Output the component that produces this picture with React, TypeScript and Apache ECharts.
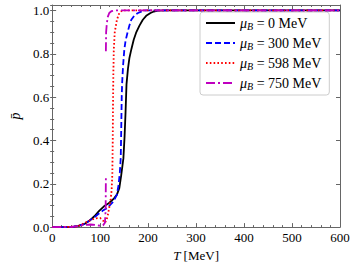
import React, { useEffect, useRef } from 'react';
import * as echarts from 'echarts';

const FONT = 'Liberation Serif';

const T_BLACK = [0, 30, 45, 55, 68, 78, 88, 98, 108, 118, 128, 135, 140, 144, 148.5, 151, 153, 155, 158, 161, 165, 170, 175, 182, 189, 196, 205, 212, 220, 240, 600];
const P_BLACK = [0, 0, 0.002, 0.006, 0.015, 0.03, 0.05, 0.075, 0.096, 0.11, 0.13, 0.15, 0.18, 0.24, 0.317, 0.42, 0.53, 0.66, 0.73, 0.78, 0.82, 0.865, 0.897, 0.93, 0.957, 0.975, 0.988, 0.995, 0.999, 1.0, 1.0];

const T_BLUE = [0, 30, 45, 55, 68, 78, 88, 95, 105, 115, 120, 128, 135, 138.5, 141, 143, 144, 145, 146, 148, 150.5, 153, 157, 161, 165, 172, 179, 187, 195, 600];
const P_BLUE = [0, 0, 0.002, 0.006, 0.015, 0.03, 0.045, 0.058, 0.075, 0.088, 0.1, 0.119, 0.15, 0.195, 0.25, 0.32, 0.45, 0.6, 0.67, 0.75, 0.82, 0.86, 0.897, 0.93, 0.957, 0.978, 0.988, 0.996, 1.0, 1.0];

const T_RED = [0, 50, 60, 68, 78, 90, 100, 106, 110, 113, 116, 119, 122, 124, 125.5, 126.3, 126.8, 127.5, 128.5, 130.5, 135, 140, 146, 600];
const P_RED = [0, 0.002, 0.01, 0.02, 0.03, 0.04, 0.042, 0.03, 0.02, 0.03, 0.055, 0.09, 0.13, 0.17, 0.25, 0.4, 0.55, 0.7, 0.82, 0.9, 0.957, 0.988, 1.0, 1.0];

const T_MAG = [0, 40, 55, 65, 80, 90, 100, 106, 110, 111.5, 112, 112, 112, 112.5, 114, 116, 119, 124, 130, 600];
const P_MAG: (number | null)[] = [0, 0.001, 0.005, 0.01, 0.012, 0.01, 0.006, 0.008, 0.02, 0.08, 0.233, null, 0.812, 0.9, 0.94, 0.97, 0.988, 0.997, 1.0, 1.0];

const MU_B = ['0', '300', '598', '750'];
const X_TICKS = [0, 100, 200, 300, 400, 500, 600];
const Y_TICKS = [0, 0.2, 0.4, 0.6, 0.8, 1.0];

const zip = (t: number[], p: (number | null)[]) => t.map((x, i) => [x, p[i] === null ? '-' : p[i]]);

const AXIS_COLOR = '#666';

export default function App() {
  const ref = useRef<HTMLDivElement>(null);
  useEffect(() => {
    const chart = echarts.init(ref.current!, null, { renderer: 'svg' });
    const baseX = {
      type: 'value',
      min: X_TICKS[0],
      max: X_TICKS[X_TICKS.length - 1],
      interval: 100,
      splitLine: { show: false },
      axisLine: { onZero: false, lineStyle: { color: AXIS_COLOR, width: 1 } },
      axisTick: { inside: true, length: 4, lineStyle: { color: AXIS_COLOR } },
      minorTick: { show: true, splitNumber: 5, length: 2, lineStyle: { color: AXIS_COLOR } },
    };
    const yMajor = {
      type: 'value',
      min: 0,
      max: 1.025,
      interval: 0.2,
      splitLine: { show: false },
      axisLine: { onZero: false, lineStyle: { color: AXIS_COLOR, width: 1 } },
      axisTick: { inside: true, length: 4, lineStyle: { color: AXIS_COLOR } },
    };
    const yMinor = {
      type: 'value',
      min: 0,
      max: 1.025,
      interval: 0.05,
      splitLine: { show: false },
      axisLine: { show: false },
      axisLabel: { show: false },
      axisTick: { inside: true, length: 2, lineStyle: { color: AXIS_COLOR } },
    };
    const option = {
      animation: false,
      textStyle: { fontFamily: FONT },
      grid: { left: 41, right: 17, top: 5, bottom: 38, containLabel: false },
      xAxis: [
        {
          ...baseX,
          position: 'bottom',
          axisLabel: { color: '#000', fontFamily: FONT, fontSize: 13, margin: 4 },
          name: '{i|T} [MeV]',
          nameLocation: 'middle',
          nameGap: 15,
          nameTextStyle: {
            color: '#000',
            fontFamily: FONT,
            fontSize: 13,
            rich: { i: { fontStyle: 'italic', fontFamily: FONT, fontSize: 13, color: '#000' } },
          },
        },
        { ...baseX, position: 'top', axisLabel: { show: false } },
      ],
      yAxis: [
        {
          ...yMajor,
          position: 'left',
          axisLabel: {
            color: '#000',
            fontFamily: FONT,
            fontSize: 13,
            margin: 3,
            formatter: (v: number) => (Y_TICKS.some((t) => Math.abs(t - v) < 1e-6) ? v.toFixed(1) : ''),
          },
          name: 'p\u0304',
          nameLocation: 'middle',
          nameRotate: 90,
          nameGap: 28,
          nameTextStyle: { color: '#000', fontFamily: FONT, fontSize: 14, fontStyle: 'italic' },
        },
        { ...yMinor, position: 'left' },
        { ...yMajor, position: 'right', axisLabel: { show: false } },
        { ...yMinor, position: 'right' },
      ],
      legend: {
        orient: 'vertical',
        left: 200,
        top: 12,
        padding: [4, 8, 4, 5],
        itemWidth: 29,
        itemHeight: 14,
        itemGap: 5,
        backgroundColor: 'rgba(255,255,255,0.85)',
        borderColor: '#cccccc',
        borderWidth: 1,
        borderRadius: 3,
        itemStyle: { color: 'rgba(0,0,0,0)', borderWidth: 0, opacity: 0 },
        data: MU_B.map((m) => 'mu' + m),
        formatter: (name: string) => `{m|\u03bc}{s|B}{n| = ${name.slice(2)} MeV}`,
        textStyle: {
          color: '#000',
          fontFamily: FONT,
          fontSize: 14,
          rich: {
            m: { fontStyle: 'italic', fontFamily: FONT, fontSize: 14, color: '#000' },
            s: { fontStyle: 'italic', fontFamily: FONT, fontSize: 10, color: '#000', padding: [6, 0, 0, 0] },
            n: { fontFamily: FONT, fontSize: 14, color: '#000' },
          },
        },
      },
      series: [
        {
          name: 'mu0',
          type: 'line',
          symbol: 'none',
          data: zip(T_BLACK, P_BLACK),
          lineStyle: { color: '#000000', width: 1.8 },
          itemStyle: { color: '#000000' },
          z: 3,
        },
        {
          name: 'mu300',
          type: 'line',
          symbol: 'none',
          data: zip(T_BLUE, P_BLUE),
          lineStyle: { color: '#0000ff', width: 1.8, type: [6, 3] },
          itemStyle: { color: '#0000ff' },
          z: 4,
        },
        {
          name: 'mu598',
          type: 'line',
          symbol: 'none',
          data: zip(T_RED, P_RED),
          lineStyle: { color: '#ff0000', width: 1.8, type: [1.6, 2.2] },
          itemStyle: { color: '#ff0000' },
          z: 5,
        },
        {
          name: 'mu750',
          type: 'line',
          symbol: 'none',
          connectNulls: false,
          data: zip(T_MAG, P_MAG),
          lineStyle: { color: '#bf00bf', width: 1.8, type: [9, 3, 2, 3] },
          itemStyle: { color: '#bf00bf' },
          z: 6,
        },
      ],
    };
    chart.setOption(option as any);
    return () => chart.dispose();
  }, []);
  return <div ref={ref} style={{ width: 357, height: 267, position: 'absolute', left: 0, top: 0 }} />;
}
